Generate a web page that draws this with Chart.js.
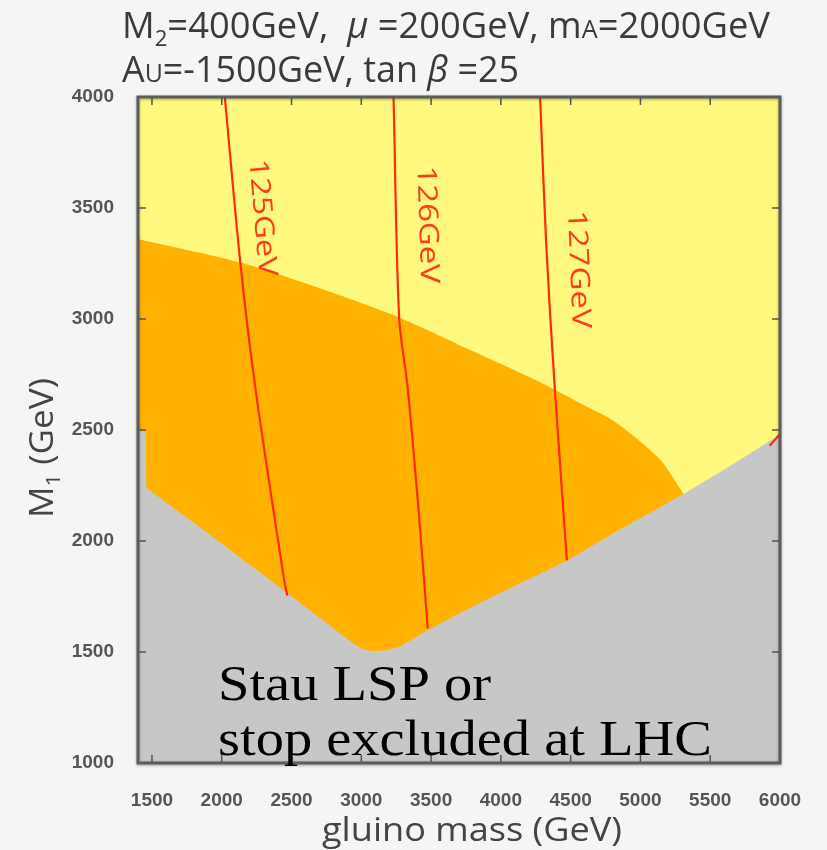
<!DOCTYPE html>
<html>
<head>
<meta charset="utf-8">
<script src="https://cdn.jsdelivr.net/npm/chart.js@4/dist/chart.umd.min.js"></script>
<style>
  html, body { margin: 0; padding: 0; background: #f5f5f5; }
  #wrap { width: 827px; height: 850px; }
</style>
</head>
<body>
<div id="wrap"><canvas id="chart" width="827" height="850"></canvas></div>
<script>
// values: gluino mass (x) vs M1 (y), both in GeV
const xTicks = [1500, 2000, 2500, 3000, 3500, 4000, 4500, 5000, 5500, 6000];
const yTicks = [1000, 1500, 2000, 2500, 3000, 3500, 4000];

// upper edge of the orange band
const orangeG = [1400, 2133, 2707, 3271, 3785, 4281, 4600, 4820, 5136, 5308];
const orangeM = [3360, 3254, 3137, 3007, 2859, 2715, 2610, 2536, 2370, 2212];

// upper edge of the grey (stau LSP / stop excluded) region
const greyG = [1400, 1452, 1460, 1975, 2417, 2765, 2919, 3000, 3085, 3180, 3277, 3471, 3850, 4480, 4820, 5308, 5610, 6000];
const greyM = [2500, 2490, 2240, 2000, 1790, 1624, 1548, 1515, 1503, 1508, 1525, 1597, 1722, 1913, 2040, 2212, 2325, 2480];

// higgs mass contours
const h125G = [2022, 2133, 2240, 2449, 2470];
const h125M = [4000, 3254, 2693, 1817, 1754];
const h126G = [3231, 3271, 3332, 3411, 3476];
const h126M = [4000, 3007, 2693, 2132, 1606];
const h127G = [4281, 4325, 4385, 4473];
const h127M = [4000, 3335, 2700, 1913];
const hEdgeG = [5926, 6000];
const hEdgeM = [2429, 2482];

const contourNames = ['125GeV', '126GeV', '127GeV'];
const contourLabelG = [2288, 3471, 4553];
const contourLabelM = [3456, 3425, 3223];

const RED = '#ff2a0a';
const pts = (gs, ms) => gs.map((g, i) => ({ x: g, y: ms[i] }));

function contour(gs, ms) {
  return {
    data: pts(gs, ms), showLine: true, borderColor: RED, borderWidth: 2.2,
    pointRadius: 0, fill: false, tension: 0.3
  };
}

function region(gs, ms, color, tension) {
  return {
    data: pts(gs, ms), showLine: true, borderColor: 'rgba(0,0,0,0)', borderWidth: 1,
    pointRadius: 0, fill: 'start', backgroundColor: color, tension: tension
  };
}

// draws a run of differently styled pieces squeezed to a given width
function drawRich(ctx, parts, x, y, width, align) {
  let total = 0;
  parts.forEach(p => { ctx.font = p[1]; total += ctx.measureText(p[0]).width; });
  const sx = width / total;
  ctx.save();
  ctx.translate(x, y);
  ctx.scale(sx, 1);
  let cx = align === 'center' ? -total / 2 : 0;
  ctx.textAlign = 'left';
  parts.forEach(p => {
    ctx.font = p[1];
    ctx.fillText(p[0], cx, p[2] || 0);
    cx += ctx.measureText(p[0]).width;
  });
  ctx.restore();
}

const SANS = '"Open Sans", "Noto Sans", sans-serif';

const decor = {
  id: 'decor',
  beforeDraw(chart) {
    const { ctx, chartArea: a } = chart;
    ctx.save();
    ctx.fillStyle = '#f5f5f5';
    ctx.fillRect(0, 0, chart.width, chart.height);
    ctx.fillStyle = '#fff97f';
    ctx.fillRect(a.left, a.top, a.right - a.left, a.bottom - a.top);
    ctx.restore();
  },
  afterDatasetsDraw(chart) {
    const { ctx, chartArea: a, scales: { x, y } } = chart;
    ctx.save();
    // contour labels
    ctx.fillStyle = '#ff3b1f';
    ctx.textBaseline = 'middle';
    const angles = [1.485, 1.54, 1.53];
    contourNames.forEach((t, i) => {
      ctx.save();
      ctx.translate(x.getPixelForValue(contourLabelG[i]), y.getPixelForValue(contourLabelM[i]));
      ctx.rotate(angles[i]);
      ctx.font = '27px ' + SANS;
      const w = ctx.measureText(t).width;
      ctx.scale(118 / w, 1);
      ctx.textAlign = 'center';
      ctx.fillText(t, 0, 0);
      ctx.restore();
    });
    // inner tick marks
    ctx.strokeStyle = '#555';
    ctx.lineWidth = 1.5;
    ctx.beginPath();
    xTicks.forEach(v => {
      const px = x.getPixelForValue(v);
      ctx.moveTo(px, a.bottom); ctx.lineTo(px, a.bottom - 8);
      ctx.moveTo(px, a.top); ctx.lineTo(px, a.top + 8);
    });
    yTicks.forEach(v => {
      const py = y.getPixelForValue(v);
      ctx.moveTo(a.left, py); ctx.lineTo(a.left + 8, py);
      ctx.moveTo(a.right, py); ctx.lineTo(a.right - 8, py);
    });
    ctx.stroke();
    // frame
    ctx.shadowColor = 'rgba(0,0,0,0.35)';
    ctx.shadowBlur = 3;
    ctx.shadowOffsetY = 1;
    ctx.strokeStyle = '#5c5c5c';
    ctx.lineWidth = 3;
    ctx.strokeRect(a.left, a.top, a.right - a.left, a.bottom - a.top);
    ctx.restore();
  },
  afterDraw(chart) {
    const { ctx } = chart;
    ctx.save();
    ctx.textBaseline = 'alphabetic';
    ctx.fillStyle = '#3a3a3a';
    const F = '36px ' + SANS, FI = 'italic 36px ' + SANS, FS = '22px ' + SANS, FC = '25px ' + SANS;
    drawRich(ctx, [['M', F], ['2', FS, 8], ['=400GeV,  ', F], ['\u03bc', FI], [' =200GeV, m', F], ['A', FC], ['=2000GeV', F]], 122, 38, 648);
    drawRich(ctx, [['A', F], ['U', FC], ['=-1500GeV, tan ', F], ['\u03b2', FI], [' =25', F]], 122, 82, 397);

    // axis titles
    const A = '32px ' + SANS, AS = '20px ' + SANS;
    ctx.fillStyle = '#444';
    drawRich(ctx, [['gluino mass (GeV)', A]], 472, 841, 300, 'center');
    ctx.save();
    ctx.translate(53, 448);
    ctx.rotate(-Math.PI / 2);
    drawRich(ctx, [['M', A], ['1', AS, 7], [' (GeV)', A]], 0, 0, 140, 'center');
    ctx.restore();

    // region annotation
    ctx.fillStyle = '#000';
    const S = '50px "Liberation Serif", "DejaVu Serif", serif';
    ctx.font = S;
    const w2 = ctx.measureText('stop excluded at LHC').width;
    const w1 = ctx.measureText('Stau LSP or').width;
    drawRich(ctx, [['Stau LSP or', S]], 218, 700, w1 * 494 / w2);
    drawRich(ctx, [['stop excluded at LHC', S]], 218, 755, 494);
    ctx.restore();
  }
};

const tickFont = { family: '"Liberation Sans", Arial, sans-serif', size: 19, weight: 'bold' };

new Chart(document.getElementById('chart'), {
  type: 'scatter',
  data: {
    datasets: [
      contour(h125G, h125M),
      contour(h126G, h126M),
      contour(h127G, h127M),
      contour(hEdgeG, hEdgeM),
      region(greyG, greyM, '#c7c7c7', 0),
      region(orangeG, orangeM, '#ffb300', 0.25)
    ]
  },
  options: {
    responsive: false,
    animation: false,
    events: [],
    layout: { padding: { top: 97, right: 47, left: 0, bottom: 0 } },
    plugins: {
      legend: { display: false },
      tooltip: { enabled: false },
      filler: { drawTime: 'beforeDatasetDraw' }
    },
    scales: {
      x: {
        type: 'linear', min: 1400, max: 6000,
        afterBuildTicks: s => { s.ticks = xTicks.map(v => ({ value: v })); },
        afterFit: s => { s.height = 87; },
        grid: { display: false },
        border: { display: false },
        ticks: { font: tickFont, color: '#555', padding: 18, maxRotation: 0, autoSkip: false, callback: v => String(v) }
      },
      y: {
        type: 'linear', min: 1000, max: 4000,
        afterBuildTicks: s => { s.ticks = yTicks.map(v => ({ value: v })); },
        afterFit: s => { s.width = 138; },
        grid: { display: false },
        border: { display: false },
        ticks: { font: tickFont, color: '#555', padding: 16, autoSkip: false, callback: v => String(v) }
      }
    }
  },
  plugins: [decor]
});
</script>
</body>
</html>
